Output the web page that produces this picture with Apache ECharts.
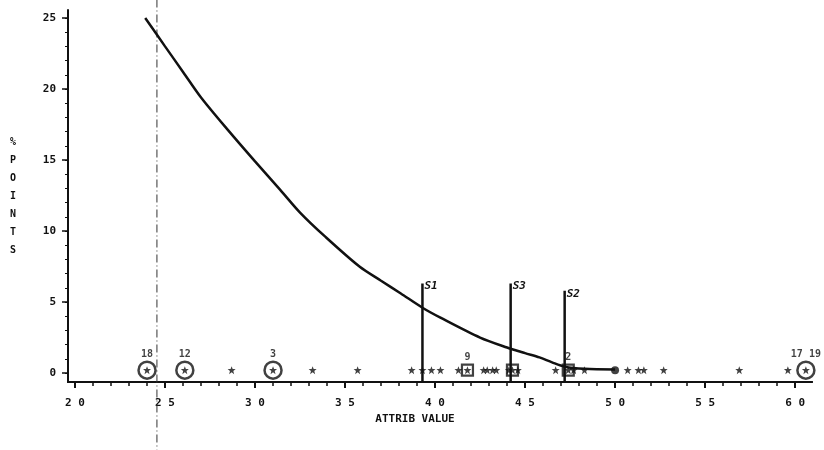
<!DOCTYPE html>
<html>
<head>
<meta charset="utf-8">
<script src="https://cdn.jsdelivr.net/npm/echarts@6/dist/echarts.min.js"></script>
<style>
  html, body { margin: 0; padding: 0; background: #fff; }
  #chart { width: 824px; height: 450px; }
</style>
</head>
<body>
<div id="chart"></div>
<script>
  // 曲线
  var curveX = [23.9, 25.0, 26.0, 27.0, 28.5, 30.0, 31.4, 32.5, 33.9, 35.8, 37.0, 38.1, 39.3, 40.3, 42.5, 44.0, 45.0, 45.8, 46.5, 47.2, 48.3, 50.0]
  var curveY = [25.0, 23.0, 21.2, 19.4, 17.1, 14.9, 12.9, 11.3, 9.6, 7.5, 6.5, 5.6, 4.6, 3.9, 2.5, 1.8, 1.4, 1.1, 0.75, 0.45, 0.3, 0.25]
  // 星号点
  var starX = [24.0, 26.1, 28.7, 31.0, 33.2, 35.7, 38.7, 39.3, 39.8, 40.3, 41.3, 41.8, 42.7, 42.9, 43.2, 43.4,
               44.1, 44.3, 44.6, 46.7, 47.4, 47.7, 48.3, 50.7, 51.3, 51.6, 52.7, 56.9, 59.6, 60.6]
  var starY = 0.2
  var dotX = [50.0]
  // 圆圈标记
  var circleX = [24.0, 26.1, 31.0, 60.6]
  var circleLabels = ['18', '12', '3', '17 19']
  // 方框标记
  var squareX = [41.8, 44.3, 47.4]
  var squareLabels = ['9', '', '2']
  // 单独的编号
  var tagX = [43.1]
  var tagLabels = ['13']
  // 竖线
  var spikeX = [39.3, 44.2, 47.2]
  var spikeTop = [6.3, 6.3, 5.8]
  var spikeLabels = ['S1', 'S3', 'S2']
  // 点划线
  var refX = 24.55
  var refRange = [26.3, -5.4]
  // 刻度
  var xMajorTicks = [20, 25, 30, 35, 40, 45, 50, 55, 60]
  var yMajorTicks = [0, 5, 10, 15, 20, 25]
  var xRange = [19.61, 60.94]
  var yRange = [-0.63, 25.56]

  var xMinor = [], yMinor = []
  for (var i = 20; i <= 60; i++) xMinor.push(i)
  for (var j = 0; j <= 25; j++) yMinor.push(j)

  var font = 'DejaVu Sans Mono'
  var black = '#111'

  var starPath = 'path://M0,-5L1.3,-1.7L5,-1.7L2.1,0.7L3.1,4.5L0,2.3L-3.1,4.5L-2.1,0.7L-5,-1.7L-1.3,-1.7Z'

  var series = []
  series.push({
    type: 'line',
    data: curveX.map(function (x, k) { return [x, curveY[k]] }),
    smooth: 0.3,
    symbol: 'none',
    lineStyle: { color: black, width: 2.5 },
    z: 3
  })
  series.push({
    type: 'line',
    data: [[refX, refRange[0]], [refX, refRange[1]]],
    symbol: 'none',
    clip: false,
    lineStyle: { color: '#333', width: 1, type: [8, 3, 1, 3] },
    z: 1
  })
  spikeX.forEach(function (x, k) {
    series.push({
      type: 'line',
      data: [[x, yRange[0]], [x, spikeTop[k]]],
      symbol: 'none',
      lineStyle: { color: black, width: 2.5 },
      endLabel: {
        show: true, distance: 2, formatter: spikeLabels[k],
        fontFamily: font, fontWeight: 'bold', fontStyle: 'italic', fontSize: 11, color: black,
        offset: [0, 3]
      },
      z: 4
    })
  })
  series.push({
    type: 'scatter',
    data: starX.map(function (x) { return [x, starY] }),
    symbol: starPath,
    symbolSize: 8,
    itemStyle: { color: black },
    z: 5
  })
  series.push({
    type: 'scatter',
    data: dotX.map(function (x) { return [x, starY] }),
    symbol: 'circle',
    symbolSize: 8,
    itemStyle: { color: black },
    z: 5
  })
  series.push({
    type: 'scatter',
    data: circleX.map(function (x) { return [x, starY] }),
    symbol: 'circle',
    symbolSize: 17,
    itemStyle: { color: 'rgba(0,0,0,0)', borderColor: black, borderWidth: 2.5 },
    label: {
      show: true, position: 'top', distance: 1,
      formatter: function (p) { return circleLabels[p.dataIndex] },
      fontFamily: font, fontWeight: 'bold', fontSize: 10, color: black
    },
    z: 6
  })
  series.push({
    type: 'scatter',
    data: squareX.map(function (x) { return [x, starY] }),
    symbol: 'rect',
    symbolSize: 11,
    itemStyle: { color: 'rgba(0,0,0,0)', borderColor: black, borderWidth: 2.2 },
    label: {
      show: true, position: 'top', distance: 1,
      formatter: function (p) { return squareLabels[p.dataIndex] },
      fontFamily: font, fontWeight: 'bold', fontSize: 10, color: black
    },
    z: 6
  })
  series.push({
    type: 'scatter',
    data: tagX.map(function (x) { return [x, starY] }),
    symbol: 'none',
    label: {
      show: true, position: 'top', distance: 6,
      formatter: function (p) { return tagLabels[p.dataIndex] },
      fontFamily: font, fontWeight: 'bold', fontSize: 10, color: black
    },
    z: 6
  })

  var myChart = echarts.init(document.getElementById('chart'))
  myChart.setOption({
    backgroundColor: '#fff',
    animation: false,
    grid: { left: 68, right: 12, top: 10, bottom: 68 },
    xAxis: [
      {
        type: 'value',
        min: xRange[0],
        max: xRange[1],
        name: 'ATTRIB VALUE',
        nameLocation: 'middle',
        nameGap: 25,
        nameTextStyle: { fontFamily: font, fontWeight: 'bold', fontSize: 11, color: black, padding: [0, 50, 0, 0] },
        axisLine: { show: true, onZero: false, lineStyle: { color: black, width: 2 } },
        axisTick: { show: true, customValues: xMajorTicks, length: 6, lineStyle: { color: black, width: 2 } },
        axisLabel: {
          customValues: xMajorTicks, margin: 16, color: black,
          fontFamily: font, fontWeight: 'bold', fontSize: 11,
          formatter: function (v) { return String(Math.round(v)).split('').join(' ') }
        },
        splitLine: { show: false }
      },
      {
        type: 'value',
        min: xRange[0],
        max: xRange[1],
        position: 'bottom',
        offset: 0,
        axisLine: { show: true, onZero: false, lineStyle: { color: black, width: 2 } },
        axisTick: { show: true, customValues: xMinor, length: 4, lineStyle: { color: black, width: 1.5 } },
        axisLabel: { show: false },
        splitLine: { show: false }
      }
    ],
    yAxis: [
      {
        type: 'value',
        min: yRange[0],
        max: yRange[1],
        name: '%\nP\nO\nI\nN\nT\nS',
        nameLocation: 'middle',
        nameRotate: 0,
        nameGap: 52,
        nameTextStyle: { fontFamily: font, fontWeight: 'bold', fontSize: 10, lineHeight: 18, color: black, padding: [22, 0, 0, 0] },
        axisLine: { show: true, onZero: false, lineStyle: { color: black, width: 2 } },
        axisTick: { show: true, customValues: yMajorTicks, length: 6, lineStyle: { color: black, width: 1.5 } },
        axisLabel: {
          customValues: yMajorTicks, margin: 12, color: black,
          fontFamily: font, fontWeight: 'bold', fontSize: 11
        },
        splitLine: { show: false }
      },
      {
        type: 'value',
        min: yRange[0],
        max: yRange[1],
        position: 'left',
        axisLine: { show: false, onZero: false },
        axisTick: { show: true, customValues: yMinor, length: 3, lineStyle: { color: black, width: 1 } },
        axisLabel: { show: false },
        splitLine: { show: false }
      }
    ],
    series: series
  })
</script>
</body>
</html>
